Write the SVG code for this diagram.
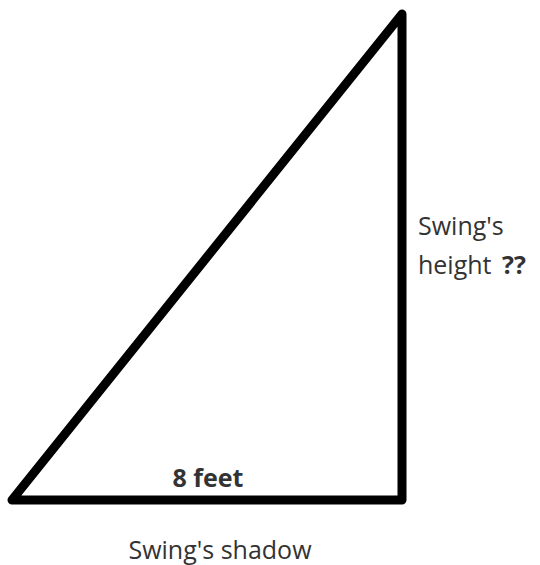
<svg xmlns="http://www.w3.org/2000/svg" width="540" height="565" viewBox="0 0 540 565">
<style>
.t{font-family:"Open Sans","Liberation Sans",sans-serif;font-size:25px;fill:#333}
.b{font-weight:bold}
.edge{fill:none;stroke:#000;stroke-width:9;stroke-linejoin:round;stroke-linecap:round}
</style>
<rect width="540" height="565" fill="#fff"/>
<g id="connectors">
<path class="edge" d="M402,14 L402,500 L12,500 Z"/>
</g>
<g id="label-height">
<text class="t" x="418" y="235">Swing's</text>
<text class="t" x="418" y="274">height <tspan class="b" dx="4">??</tspan></text>
</g>
<g id="label-base">
<text class="t b" x="208" y="487" text-anchor="middle">8 feet</text>
</g>
<g id="label-shadow">
<text class="t" x="220" y="559" text-anchor="middle">Swing's shadow</text>
</g>
</svg>
